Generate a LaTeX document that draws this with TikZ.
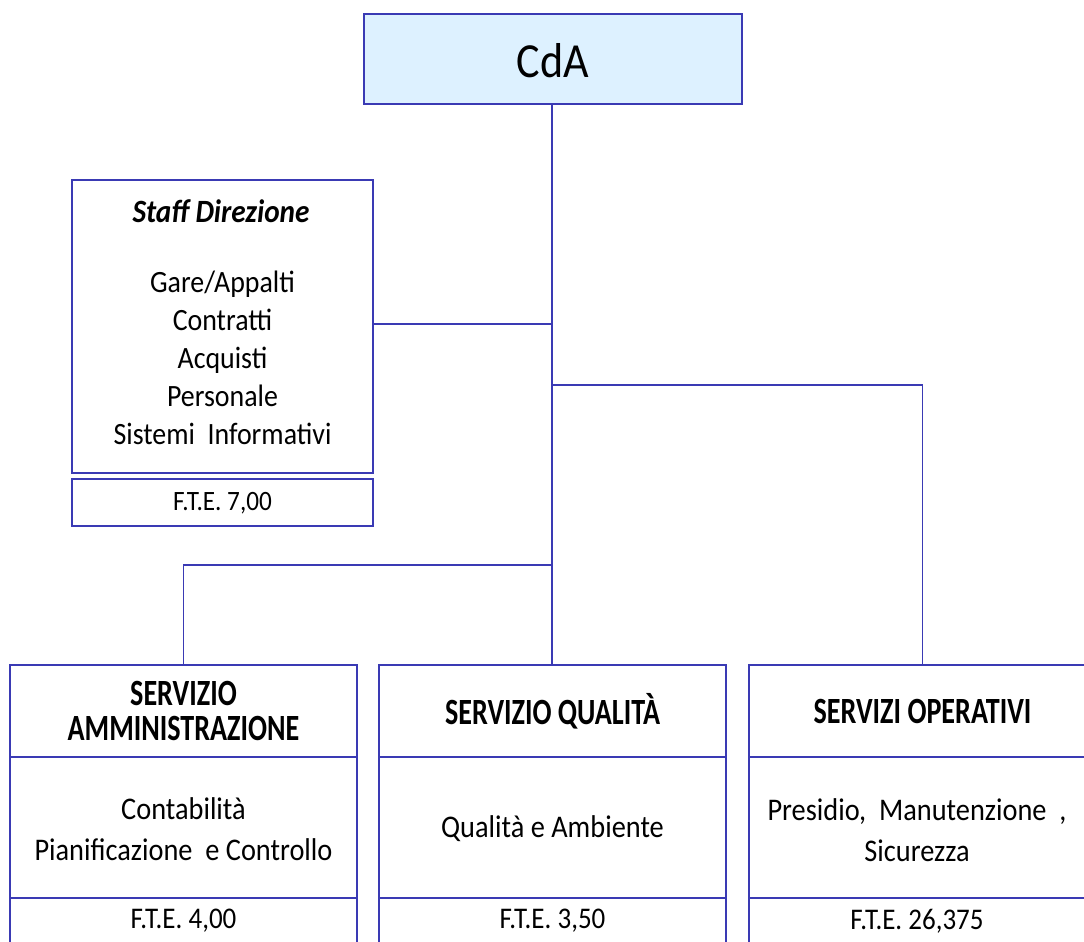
\documentclass[tikz,border=0pt]{standalone}
\usepackage{fontspec}
\setmainfont{Carlito}[FakeStretch=0.9]
\newfontfamily\headfont{Carlito}[FakeStretch=0.76]
\definecolor{bline}{HTML}{3A3AB4}
\definecolor{cdafill}{HTML}{DDF1FF}
\begin{document}
\begin{tikzpicture}[x=1pt,y=-1pt,
  box/.style={draw=bline,line width=1.6pt,rectangle,inner sep=0pt},
  conn/.style={draw=bline,line width=1.6pt},
  txt/.style={inner sep=0pt,align=center,text=black},
  head/.style={font=\headfont\fontsize{37}{35}\selectfont\bfseries},
  body/.style={font=\fontsize{31.5}{41}\selectfont},
  fte/.style={font=\fontsize{30}{30}\selectfont}]
\useasboundingbox (0,0) rectangle (1084,942);
\clip (0,0) rectangle (1084,942);
% CdA
\node[box,fill=cdafill,minimum width=378pt,minimum height=90pt] (cda) at (553,59) {};
\node[txt,font=\fontsize{49}{52}\selectfont] (cdat) at (553,61) {CdA};
% Staff
\node[box,minimum width=301pt,minimum height=293pt] (staff) at (222.5,326.5) {};
\node[txt,font=\fontsize{32.5}{34}\selectfont\bfseries\itshape] (stafft) at (221,211) {Staff Direzione};
\node[txt,font=\fontsize{31}{38}\selectfont] (staffl) at (222.5,358) {Gare/Appalti\\Contratti\\Acquisti\\Personale\\Sistemi\ \ Informativi};
\node[box,minimum width=301pt,minimum height=47pt] (stafff) at (222.5,502.5) {};
\node[txt,font=\fontsize{28}{30}\selectfont] (staffft) at (222.5,503) {F.T.E. 7,00};
% Admin
\node[box,minimum width=347pt,minimum height=92pt] (adm) at (183.5,711) {};
\node[txt,head] (admt) at (183.5,711) {SERVIZIO\\AMMINISTRAZIONE};
\node[box,minimum width=347pt,minimum height=141pt] (admb) at (183.5,827.5) {};
\node[txt,body] (admbt) at (183.5,829) {Contabilità\\Pianificazione\ \ e Controllo};
\node[box,minimum width=347pt,minimum height=62pt] (admf) at (183.5,929) {};
\node[txt,fte] (admft) at (183.5,921) {F.T.E. 4,00};
% Qualita
\node[box,minimum width=347pt,minimum height=92pt] (q) at (552.5,711) {};
\node[txt,head] (qt) at (552.5,711) {SERVIZIO QUALITÀ};
\node[box,minimum width=347pt,minimum height=141pt] (qb) at (552.5,827.5) {};
\node[txt,body] (qbt) at (552.5,829) {Qualità e Ambiente};
\node[box,minimum width=347pt,minimum height=62pt] (qf) at (552.5,929) {};
\node[txt,fte] (qft) at (552.5,921) {F.T.E. 3,50};
% Operativi
\node[box,minimum width=347pt,minimum height=92pt] (op) at (922.5,711) {};
\node[txt,head] (opt) at (922.5,711) {SERVIZI OPERATIVI};
\node[box,minimum width=347pt,minimum height=141pt] (opb) at (922.5,827.5) {};
\node[txt,body] (opbt) at (917,830) {Presidio,\ \ Manutenzione\ \ ,\\Sicurezza};
\node[box,minimum width=347pt,minimum height=62pt] (opf) at (922.5,929) {};
\node[txt,fte] (opft) at (917,921) {F.T.E. 26,375};
% connectors
\coordinate (j1) at (552,385);
\coordinate (j2) at (552,565);
\draw[conn] (cda.south -| 552,0) -- (q.north -| 552,0);
\draw[conn] (staff.east |- 0,324) -- (552,324);
\draw[conn] (j1) -- (j1 -| op.north) -- (op.north);
\draw[conn] (j2) -- (j2 -| adm.north) -- (adm.north);
\end{tikzpicture}
\end{document}
